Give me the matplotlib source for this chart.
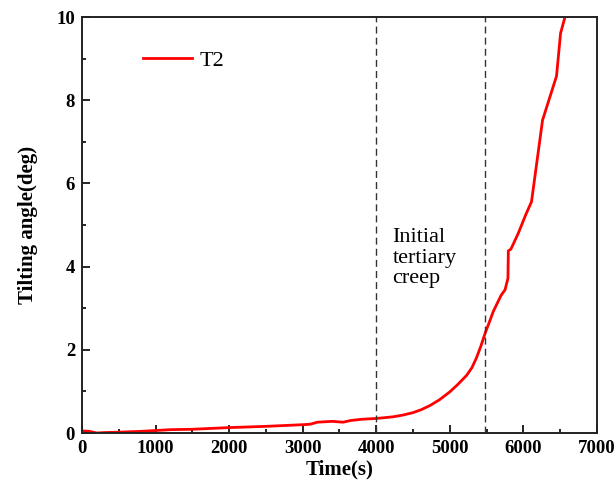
import matplotlib
matplotlib.use("Agg")
import matplotlib.pyplot as plt
from matplotlib.ticker import MultipleLocator

time_s = [0, 100, 200, 300, 500, 800, 1000, 1200, 1500, 2000, 2500, 3000, 3100, 3200,
          3400, 3550, 3650, 3800, 4000, 4120, 4230, 4360, 4500, 4610, 4730, 4860,
          5000, 5110, 5230, 5300, 5360, 5420, 5480, 5540,
          5590, 5650, 5700, 5750, 5790, 5795, 5830, 5930, 6030, 6110, 6260, 6450,
          6505, 6565]
angle_deg = [0.05, 0.04, 0.0, 0.01, 0.02, 0.04, 0.06, 0.08, 0.09, 0.13, 0.16, 0.2, 0.21, 0.26,
             0.28, 0.26, 0.3, 0.33, 0.35, 0.37, 0.39, 0.43, 0.49, 0.56, 0.66, 0.8,
             0.99, 1.17, 1.39, 1.57, 1.8, 2.08, 2.4, 2.68,
             2.92, 3.14, 3.32, 3.44, 3.72, 4.38, 4.42, 4.8, 5.24, 5.56, 7.52, 8.58,
             9.61, 10.0]

stage_lines = [4000, 5480]
series_label = "T2"
annotation = "Initial\ntertiary\ncreep"

plt.rcParams['font.family'] = ['Liberation Serif', 'DejaVu Serif']

fig = plt.figure(figsize=(6.15, 4.96), dpi=100)
ax = fig.add_axes([0.1333, 0.127, 0.8374, 0.8387])

ax.plot(time_s, angle_deg, color='red', lw=2, label=series_label)
for xv in stage_lines:
    ax.axvline(xv, color='#333333', lw=1, ls=(0, (5, 3)))

ax.text(4220, 4.92, annotation, fontsize=16, va='top', ha='left', linespacing=1.1)

ax.set_xlim(0, 7000)
ax.set_ylim(0, 10)
ax.xaxis.set_major_locator(MultipleLocator(1000))
ax.xaxis.set_minor_locator(MultipleLocator(500))
ax.yaxis.set_major_locator(MultipleLocator(2))
ax.yaxis.set_minor_locator(MultipleLocator(1))
ax.tick_params(which='both', direction='in', top=False, right=False, width=1.2)
ax.tick_params(which='major', length=6, labelsize=13.5, pad=5)
ax.tick_params(which='minor', length=3)
for lab in ax.get_xticklabels() + ax.get_yticklabels():
    lab.set_fontweight('bold')
for sp in ax.spines.values():
    sp.set_linewidth(1.4)
    sp.set_color('#222222')

ax.set_xlabel('Time(s)', fontsize=15, fontweight='bold', labelpad=2)
ax.set_ylabel('Tilting angle(deg)', fontsize=15, fontweight='bold', labelpad=13)

leg = ax.legend(loc='upper left', frameon=False, fontsize=16, handlelength=2.2,
                handletextpad=0.35, bbox_to_anchor=(0.08, 0.968))

fig.savefig('out.png', dpi=100)
